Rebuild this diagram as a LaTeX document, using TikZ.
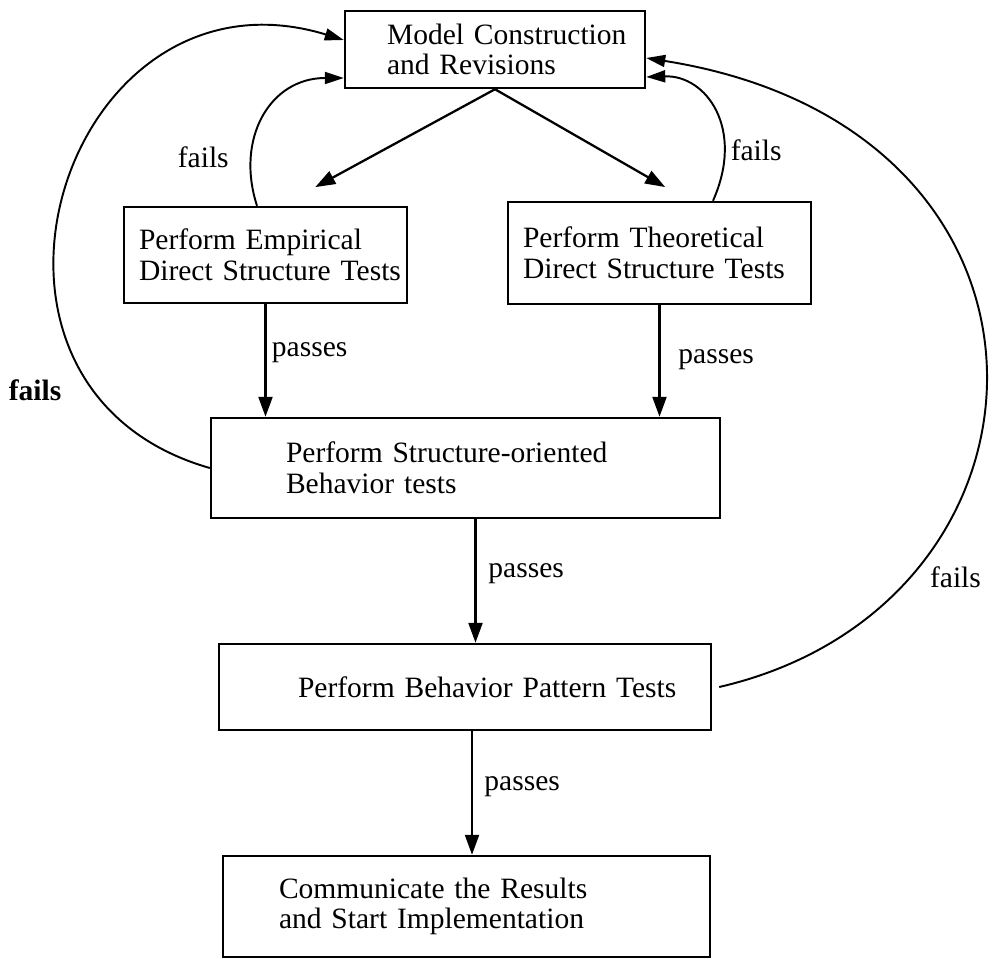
\documentclass[tikz,border=0pt]{standalone}
\usepackage{fontspec}
\setmainfont{Liberation Serif}
\usepackage{tikz}
\usetikzlibrary{arrows.meta, positioning}
\tikzset{
    stagebox/.style={rectangle, draw, line width=1.4pt, align=left, inner xsep=0pt, inner ysep=2pt, font=\fontsize{16.8}{17.5}\selectfont},
    textindent/.style={execute at begin node={\leftskip=#1\relax}},
    flow/.style={line width=1.3pt, -{Triangle[length=0.4cm, width=0.28cm]}},
    feedback/.style={line width=1.1pt, -{Triangle[length=0.38cm, width=0.24cm]}},
    cond/.style={font=\fontsize{16.8}{17.5}\selectfont, inner sep=3pt}
}

\begin{document}
\begin{tikzpicture}
    \useasboundingbox (0,0) rectangle (19.86,-19.18);

    \node[stagebox, text width=6.0cm, minimum height=1.54cm, textindent=0.84cm] (model) at (9.9,-0.99) {Model Construction\\and Revisions};
    \node[stagebox, text width=5.66cm, minimum height=1.92cm, textindent=0.3cm] (emp) at (5.31,-5.1) {Perform Empirical\\Direct Structure Tests};
    \node[stagebox, text width=6.06cm, minimum height=2.04cm, textindent=0.3cm] (theo) at (13.19,-5.06) {Perform Theoretical\\Direct Structure Tests};
    \node[stagebox, text width=10.18cm, minimum height=2.0cm, textindent=1.5cm] (struct) at (9.31,-9.36) {Perform Structure-oriented\\Behavior tests};
    \node[stagebox, text width=9.84cm, minimum height=1.72cm, textindent=1.58cm] (behav) at (9.3,-13.74) {Perform Behavior Pattern Tests};
    \node[stagebox, text width=9.74cm, minimum height=2.02cm, textindent=1.12cm] (comm) at (9.33,-18.13) {Communicate the Results\\and Start Implementation};

    % forward flow
    \draw[flow, shorten >=0.78cm] (model.south) -- ([xshift=0.31cm]emp.north);
    \draw[flow, shorten >=0.55cm] (model.south) -- ([xshift=0.59cm]theo.north);
    \draw[flow] (emp.south) -- node[cond, right, pos=0.43] (pe) {passes} (emp.south |- struct.north);
    \draw[flow] (theo.south) -- node[cond, right=0.25cm, pos=0.49] (pt) {passes} (theo.south |- struct.north);
    \draw[flow] ([xshift=0.2cm]struct.south) -- node[cond, right=0.13cm, pos=0.44] (ps) {passes} ([xshift=0.2cm]struct.south |- behav.north);
    \draw[flow] ([xshift=0.14cm]behav.south) -- node[cond, right=0.12cm, pos=0.45] (pb) {passes} ([xshift=0.14cm]behav.south |- comm.north);

    % feedback loops
    \draw[feedback] ([xshift=-0.17cm]emp.north) .. controls +(108:1.41cm) and +(180:1.48cm) .. node[cond, left=0.32cm, pos=0.25] (fe) {fails} ([yshift=-0.57cm]model.west);
    \draw[feedback] ([xshift=1.07cm]theo.north) .. controls +(66:1.58cm) and +(2:1.2cm) .. node[cond, right, pos=0.25] (ft) {fails} ([yshift=-0.55cm]model.east);
    \draw[feedback] (struct.west) .. controls +(164:5.86cm) and +(163:5.86cm) .. node[cond, font=\fontsize{16.8}{17.5}\selectfont\bfseries, left=0.5cm, pos=0.19] (fs) {fails} ([yshift=0.19cm]model.west);
    \draw[feedback] ([xshift=0.14cm]behav.east) .. controls +(13:7.3cm) and +(-9:9.1cm) .. node[cond, right=0.28cm, pos=0.23] (fb) {fails} ([yshift=-0.17cm]model.east);
\end{tikzpicture}
\end{document}
